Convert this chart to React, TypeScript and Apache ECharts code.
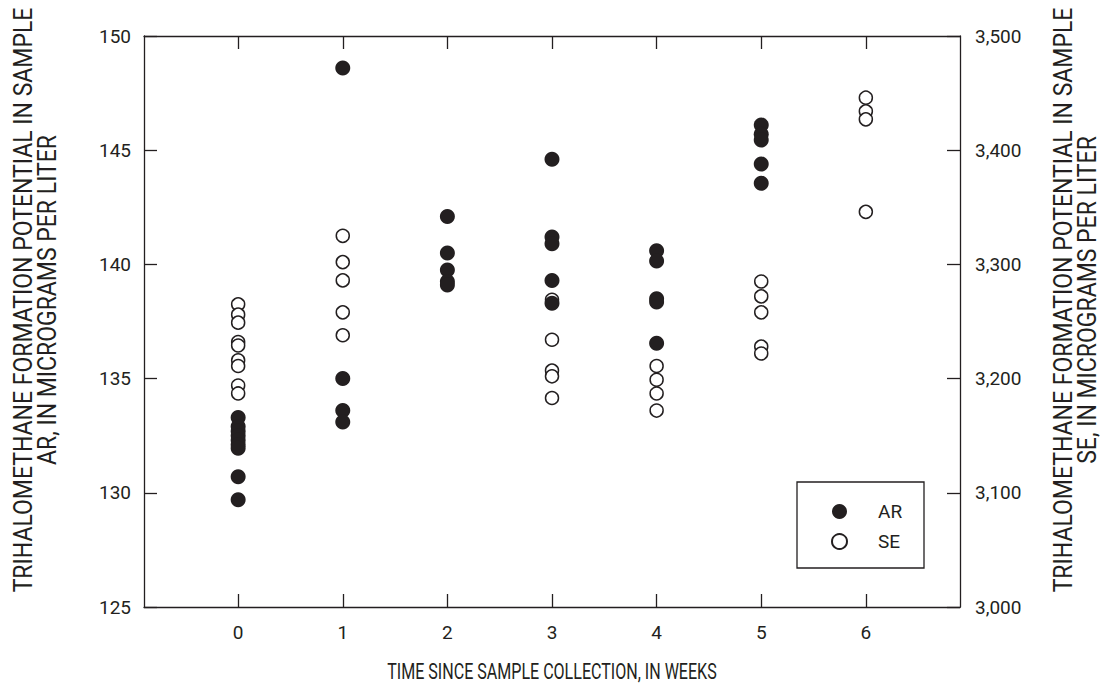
import React, { useEffect, useRef } from "react";
import * as echarts from "echarts";

const weeks = [0, 1, 2, 3, 4, 5, 6];
const yLeftTicks = [125, 130, 135, 140, 145, 150];
const yRightTicks = [3000, 3100, 3200, 3300, 3400, 3500];

// AR values (left axis)
const arWeek0 = [133.3, 132.9, 132.7, 132.5, 132.3, 132.1, 131.95, 130.7, 129.7];
const arWeek1 = [148.6, 135.0, 133.6, 133.1];
const arWeek2 = [142.1, 140.5, 139.75, 139.25, 139.1];
const arWeek3 = [144.6, 141.2, 140.9, 139.3, 138.3];
const arWeek4 = [140.6, 140.15, 138.5, 138.35, 136.55];
const arWeek5 = [146.1, 145.7, 145.45, 144.4, 143.55];

// SE values (right axis)
const seWeek0 = [3265, 3256, 3249, 3232, 3229, 3216, 3211, 3194, 3187];
const seWeek1 = [3325, 3302, 3286, 3258, 3238];
const seWeek3 = [3269, 3234, 3207, 3202, 3183];
const seWeek4 = [3211, 3199, 3187, 3172];
const seWeek5 = [3285, 3272, 3258, 3228, 3222];
const seWeek6 = [3446, 3434, 3427, 3346];

const arByWeek: [number, number[]][] = [
  [0, arWeek0], [1, arWeek1], [2, arWeek2], [3, arWeek3], [4, arWeek4], [5, arWeek5],
];
const seByWeek: [number, number[]][] = [
  [0, seWeek0], [1, seWeek1], [3, seWeek3], [4, seWeek4], [5, seWeek5], [6, seWeek6],
];

const toPoints = (groups: [number, number[]][]) =>
  groups.flatMap(([w, vals]) => vals.map((v) => [w, v]));

const FONT = "Roboto, 'Liberation Sans', sans-serif";
const INK = "#231f20";

export default function App() {
  const ref = useRef<HTMLDivElement>(null);
  useEffect(() => {
    if (!ref.current) return;
    const chart = echarts.init(ref.current, null, { renderer: "svg" });
    const axisLine = { show: true, onZero: false, lineStyle: { color: INK, width: 1.3 } };
    const tick = { show: true, inside: true, length: 13, lineStyle: { color: INK, width: 1.3 } };
    const label = { color: INK, fontFamily: FONT, fontSize: 19 };
    const titleStyle = {
      fill: INK,
      font: `25px ${FONT}`,
      align: "center",
      verticalAlign: "middle",
      lineHeight: 24,
    };
    chart.setOption({
      animation: false,
      backgroundColor: "#fff",
      grid: { left: 144, right: 147, top: 36, bottom: 80, containLabel: false },
      xAxis: [
        {
          type: "value",
          min: -0.9,
          max: 6.9,
          position: "bottom",
          axisLine,
          axisTick: { ...tick, customValues: weeks },
          axisLabel: { ...label, margin: 16, customValues: weeks },
          splitLine: { show: false },
        },
        {
          type: "value",
          min: -0.9,
          max: 6.9,
          position: "top",
          axisLine,
          axisTick: { ...tick, customValues: weeks },
          axisLabel: { show: false, customValues: weeks },
          splitLine: { show: false },
        },
      ],
      yAxis: [
        {
          type: "value",
          min: yLeftTicks[0],
          max: yLeftTicks[yLeftTicks.length - 1],
          interval: 5,
          position: "left",
          axisLine,
          axisTick: tick,
          axisLabel: { ...label, margin: 13 },
          splitLine: { show: false },
        },
        {
          type: "value",
          min: yRightTicks[0],
          max: yRightTicks[yRightTicks.length - 1],
          interval: 100,
          position: "right",
          axisLine,
          axisTick: tick,
          axisLabel: {
            ...label,
            margin: 15,
            formatter: (v: number) => v.toLocaleString("en-US"),
          },
          splitLine: { show: false },
        },
      ],
      legend: {
        orient: "vertical",
        left: 826,
        top: 497,
        itemWidth: 15,
        itemHeight: 15,
        itemGap: 11,
        icon: "circle",
        textStyle: { color: INK, fontFamily: FONT, fontSize: 19, lineHeight: 15, padding: [0, 0, 0, 26] },
        data: ["AR", "SE"],
      },
      graphic: [
        {
          type: "rect",
          shape: { x: 797, y: 482, width: 127, height: 86 },
          style: { fill: "none", stroke: INK, lineWidth: 1.3 },
          silent: true,
        },
        {
          type: "text",
          x: 36,
          y: 300,
          rotation: Math.PI / 2,
          scaleX: 0.92,
          style: {
            ...titleStyle,
            text: "TRIHALOMETHANE FORMATION POTENTIAL IN SAMPLE\nAR, IN MICROGRAMS PER LITER",
          },
        },
        {
          type: "text",
          x: 1076,
          y: 300,
          rotation: Math.PI / 2,
          scaleX: 0.92,
          style: {
            ...titleStyle,
            text: "TRIHALOMETHANE FORMATION POTENTIAL IN SAMPLE\nSE, IN MICROGRAMS PER LITER",
          },
        },
        {
          type: "text",
          x: 552,
          y: 672,
          scaleX: 0.73,
          style: {
            text: "TIME SINCE SAMPLE COLLECTION, IN WEEKS",
            fill: INK,
            font: `22px ${FONT}`,
            align: "center",
            verticalAlign: "middle",
          },
        },
      ],
      series: [
        {
          name: "SE",
          type: "scatter",
          xAxisIndex: 0,
          yAxisIndex: 1,
          symbol: "circle",
          symbolSize: 13,
          itemStyle: { color: "#ffffff", borderColor: INK, borderWidth: 1.5, opacity: 1 },
          data: toPoints(seByWeek),
          z: 2,
        },
        {
          name: "AR",
          type: "scatter",
          xAxisIndex: 0,
          yAxisIndex: 0,
          symbol: "circle",
          symbolSize: 15,
          itemStyle: { color: INK, borderColor: INK, borderWidth: 0, opacity: 1 },
          data: toPoints(arByWeek),
          z: 3,
        },
      ],
    });
    return () => chart.dispose();
  }, []);
  return (
    <div
      ref={ref}
      style={{ position: "fixed", left: 0, top: 0, width: 1107, height: 687 }}
    />
  );
}
